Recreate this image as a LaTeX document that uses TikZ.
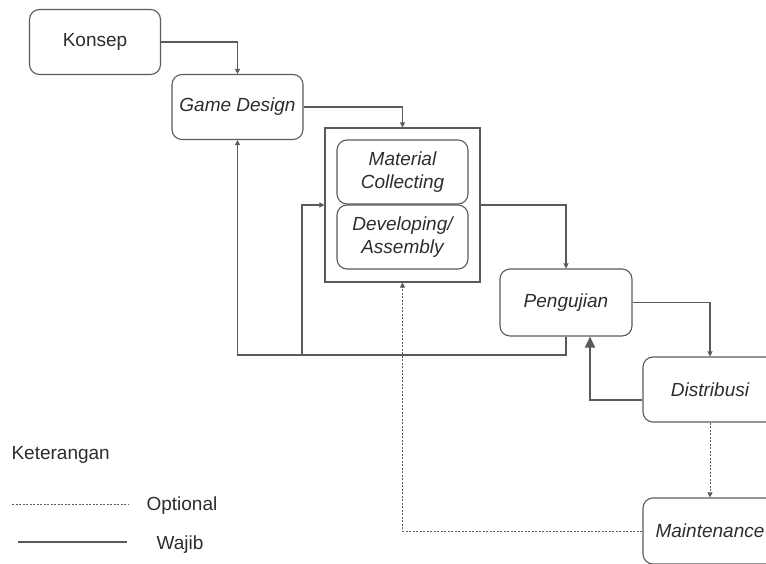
\documentclass[tikz,border=0pt]{standalone}
\usepackage{fontspec}
\setmainfont{Liberation Sans}
\usepackage{xcolor}
\definecolor{linegray}{RGB}{90, 90, 90}
\definecolor{textgray}{RGB}{45, 45, 45}
\usetikzlibrary{arrows.meta,positioning,calc}

\begin{document}
\begin{tikzpicture}[
    x=1pt, y=-1pt,
    font=\fontsize{19}{23}\selectfont, text=textgray,
    stage/.style={rectangle, draw=linegray, line width=1.1pt, rounded corners=10pt, minimum width=131pt, minimum height=65pt, align=center, font=\fontsize{19}{23}\selectfont\itshape},
    frame/.style={rectangle, draw=linegray, line width=1.1pt, minimum width=155pt, minimum height=154pt},
    arrow/.style={-{Triangle[length=5pt,width=5pt]}, draw=linegray, line width=1.1pt},
    bigarrow/.style={-{Triangle[length=11pt,width=10pt]}, draw=linegray, line width=2pt},
    optional/.style={-{Triangle[length=5pt,width=5pt]}, draw=linegray, line width=1pt, dash pattern=on 2pt off 1.5pt}
]
\useasboundingbox (0,0) rectangle (766,564);

\node[stage, font=\fontsize{19}{23}\selectfont] (konsep) at (95,42) {Konsep};
\node[stage] (gamedesign) at (237.5,107) {Game Design};
\node[frame] (container) at (402.5,205) {};
\node[stage, minimum height=64pt] (material) at (402.5,172) {Material\\Collecting};
\node[stage, minimum height=64pt] (developing) at (402.5,237) {Developing/\\Assembly};
\node[stage, minimum width=132pt, minimum height=67pt] (pengujian) at (566,302.5) {Pengujian};
\node[stage, minimum width=134pt] (distribusi) at (710,389.5) {Distribusi};
\node[stage, minimum width=134pt, minimum height=66pt] (maintenance) at (710,531) {Maintenance};

% alur wajib
\draw[arrow] (konsep.east) -| (gamedesign.north);
\draw[arrow] (gamedesign.east) -| (container.north);
\draw[arrow] (container.east) -| (pengujian.north);
\draw[arrow] (pengujian.east) -| (distribusi.north);
\coordinate (split) at (302,355);
\draw[arrow] (pengujian.south) -- (pengujian.south |- split) -| (gamedesign.south);
\draw[arrow] (split) |- (container.west);
\draw[bigarrow] ([yshift=-10pt]distribusi.west) -| ([xshift=24pt]pengujian.south);

% alur optional
\draw[optional] (distribusi.south) -- (maintenance.north);
\draw[optional] (maintenance.west) -| (container.south);

% keterangan
\node[anchor=west] (ket) at (8,455) {Keterangan};
\coordinate (opta) at (12,504);
\coordinate (optb) at (128,504);
\draw[linegray, line width=1pt, dash pattern=on 2pt off 1.5pt] (opta) -- (optb);
\node[anchor=west] (opt) at (143,506) {Optional};
\coordinate (wja) at (18,542);
\coordinate (wjb) at (127,542);
\draw[linegray, line width=1.6pt] (wja) -- (wjb);
\node[anchor=west] (wajib) at (153,545) {Wajib};

\end{tikzpicture}
\end{document}
